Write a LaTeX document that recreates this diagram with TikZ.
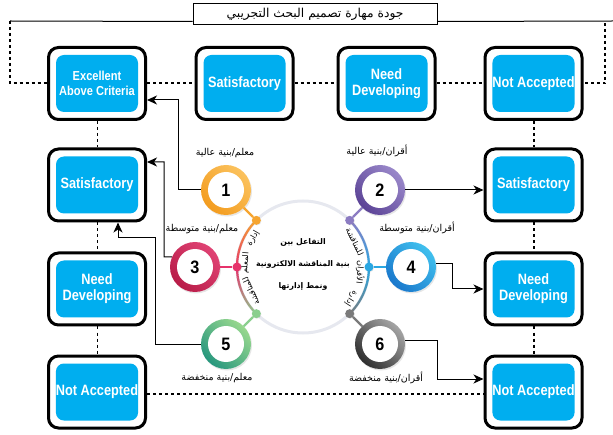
\documentclass[tikz,border=0pt]{standalone}
\usepackage{fontspec}
\usetikzlibrary{calc,arrows.meta,shadows}
\TeXXeTstate=1
\newfontfamily\arabicfont[Script=Arabic]{DejaVu Sans}
\newfontfamily\boxfont[FakeStretch=0.85]{Liberation Sans}
\newfontfamily\numfont[FakeStretch=0.9]{Liberation Sans}
\definecolor{boxblue}{HTML}{00AEEF}
\definecolor{ringgray}{HTML}{E6E8EF}
\definecolor{oA}{HTML}{F39C1F}\definecolor{oB}{HTML}{FBC25E}
\definecolor{pA}{HTML}{5B4396}\definecolor{pB}{HTML}{9A88CA}
\definecolor{rA}{HTML}{B81C48}\definecolor{rB}{HTML}{E04374}
\definecolor{bA}{HTML}{1A78CC}\definecolor{bB}{HTML}{40C0EE}
\definecolor{gA}{HTML}{27977E}\definecolor{gB}{HTML}{98D88E}
\definecolor{kA}{HTML}{2E2E2E}\definecolor{kB}{HTML}{A5A5A5}
\definecolor{arcO}{HTML}{F6A530}
\definecolor{arcP}{HTML}{E6336B}
\definecolor{arcG}{HTML}{8ACF8E}
\definecolor{arcU}{HTML}{8C7CC2}
\definecolor{arcB}{HTML}{2AA7E2}
\definecolor{arcK}{HTML}{7A7A7A}
\newcommand\arcw[4]{\node[arct, rotate=#1-90] (#4) at ($(C)+(#1:#2)$) {\beginR #3\endR};}
\tikzset{
  obox/.style={draw=black, line width=3pt, rounded corners=10pt, fill=white,
    minimum width=97pt, minimum height=72pt, inner sep=0pt,
    drop shadow={opacity=0.25, shadow xshift=1.2pt, shadow yshift=-1.2pt}},
  ibox/.style={fill=boxblue, rounded corners=8pt, minimum width=82pt, minimum height=57pt,
    inner sep=0pt, text=white, align=center, font=\boxfont\bfseries\fontsize{15}{16}\selectfont},
  dotline/.style={line width=2pt, dash pattern=on 3pt off 3pt},
  dashline/.style={line width=1pt, dash pattern=on 3pt off 3pt},
  arr/.style={line width=1pt, -{Stealth[length=10pt, width=9pt, inset=3pt]}},
  numc/.style 2 args={circle, minimum size=50pt, inner sep=0pt, fill=white,
    font=\numfont\bfseries\fontsize{18}{18}\selectfont,
    drop shadow={opacity=0.2, shadow xshift=1pt, shadow yshift=-1.5pt},
    path picture={\shade[left color=#1, right color=#2, shading angle=135]
      (path picture bounding box.center) circle (25pt);
      \fill[white] (path picture bounding box.center) circle (18pt);}},
  dotc/.style={circle, minimum size=9pt, inner sep=0pt, fill=#1,
    drop shadow={opacity=0.2, shadow xshift=0.6pt, shadow yshift=-0.6pt}},
  lab/.style={font=\arabicfont\fontsize{9.5}{10}\selectfont, inner sep=0pt},
  arct/.style={font=\arabicfont\fontsize{8}{8}\selectfont, inner sep=0pt},
  ctext/.style={font=\arabicfont\bfseries\fontsize{7.8}{22}\selectfont, align=center, inner sep=0pt},
}
\begin{document}
\begin{tikzpicture}[x=1pt, y=1pt]
\useasboundingbox (0,0) rectangle (613,434);

% title
\node[draw, line width=1pt, fill=white, minimum width=244pt, minimum height=21pt, inner sep=0pt,
  font=\arabicfont\fontsize{12.3}{14}\selectfont] (title) at (315,419.5)
  {\beginR جودة مهارة تصميم البحث التجريبي\endR};

% boxes: top row
\node[obox] (e1) at (97,350.5) {};
\node[ibox, font=\boxfont\bfseries\fontsize{13}{15}\selectfont] (e1t) at (e1) {Excellent\\Above Criteria};
\node[obox] (a2) at (244.5,350.5) {};
\node[ibox] (a2t) at (a2) {Satisfactory};
\node[obox] (a3) at (386.5,350.5) {};
\node[ibox] (a3t) at (a3) {Need\\Developing};
\node[obox] (a4) at (533.5,350.5) {};
\node[ibox] (a4t) at (a4) {Not Accepted};
% left column
\node[obox] (s1) at (97,249) {};
\node[ibox] (s1t) at (s1) {Satisfactory};
\node[obox] (d1) at (97,145) {};
\node[ibox] (d1t) at (d1) {Need\\Developing};
\node[obox] (na1) at (97,42) {};
\node[ibox] (na1t) at (na1) {Not Accepted};
% right column
\node[obox] (r1) at (533.5,249) {};
\node[ibox] (r1t) at (r1) {Satisfactory};
\node[obox] (r2) at (533.5,145) {};
\node[ibox] (r2t) at (r2) {Need\\Developing};
\node[obox] (r3) at (533.5,42) {};
\node[ibox] (r3t) at (r3) {Not Accepted};

% frame lines
\coordinate (tl) at (10,413);
\coordinate (tr) at (613,413);
\coordinate (trd) at (605,411);
\draw[line width=1pt] ($(title.south west)+(0,4)$) -- (tl);
\draw[line width=1pt] ($(title.south east)+(0,4)$) -- (tr);
\draw[dotline] (tl) |- (e1.west);
\draw[dotline] (trd) |- (a4.east);
\draw[dotline] (e1.east) -- (a2.west);
\draw[dotline] (a2.east) -- (a3.west);
\draw[dotline] (a3.east) -- (a4.west);
\draw[dashline] (e1.south) -- (s1.north);
\draw[dashline] (s1.south) -- (d1.north);
\draw[dashline] (d1.south) -- (na1.north);
\draw[dotline] (a4.south) -- (r1.north);
\draw[dotline] (r1.south) -- (r2.north);
\draw[dotline] (r2.south) -- (r3.north);
\draw[dotline] ($(na1.east)+(0,-2)$) -- ($(r3.west)+(0,-2)$);

% central circle
\coordinate (C) at (303,167);
\draw[ringgray, line width=3pt] (C) circle (66);
\foreach \k in {0,...,19}{
  \pgfmathsetmacro\myA{135+2.25*\k}
  \pgfmathsetmacro\myB{\myA+2.5}
  \pgfmathtruncatemacro\myP{100-5*\k}
  \colorlet{segc}{arcO!\myP!arcP}
  \draw[segc, line width=2.2pt] ($(C)+(\myA:66)$) arc[start angle=\myA, end angle=\myB, radius=66];
  \pgfmathsetmacro\myA{180+2.25*\k}
  \pgfmathsetmacro\myB{\myA+2.5}
  \colorlet{segc}{arcP!\myP!arcG}
  \draw[segc, line width=2.2pt] ($(C)+(\myA:66)$) arc[start angle=\myA, end angle=\myB, radius=66];
  \pgfmathsetmacro\myA{45-2.25*\k}
  \pgfmathsetmacro\myB{\myA-2.5}
  \colorlet{segc}{arcU!\myP!arcB}
  \draw[segc, line width=2.2pt] ($(C)+(\myA:66)$) arc[start angle=\myA, end angle=\myB, radius=66];
  \pgfmathsetmacro\myA{-2.25*\k}
  \pgfmathsetmacro\myB{\myA-2.5}
  \colorlet{segc}{arcB!\myP!arcK}
  \draw[segc, line width=2.2pt] ($(C)+(\myA:66)$) arc[start angle=\myA, end angle=\myB, radius=66];
}

% number circles
\node[numc={oA}{oB}] (n1) at (226,244) {1};
\node[numc={pA}{pB}] (n2) at (380,244) {2};
\node[numc={rA}{rB}] (n3) at (195,167) {3};
\node[numc={bA}{bB}] (n4) at (411,167) {4};
\node[numc={gA}{gB}] (n5) at (226,90) {5};
\node[numc={kA}{kB}] (n6) at (380,90) {6};

% dots on the circle
\node[dotc=arcO] (p1) at ($(C)+(135:66)$) {};
\node[dotc=arcP] (p3) at ($(C)+(180:66)$) {};
\node[dotc=arcG] (p5) at ($(C)+(225:66)$) {};
\node[dotc=arcU] (p2) at ($(C)+(45:66)$) {};
\node[dotc=arcB] (p4) at ($(C)+(0:66)$) {};
\node[dotc=arcK] (p6) at ($(C)+(-45:66)$) {};
\draw[arcO, line width=2.2pt] (n1) -- (p1);
\draw[arcP, line width=2.2pt] (n3) -- (p3);
\draw[arcG, line width=2.2pt] (n5) -- (p5);
\draw[arcU, line width=2.2pt] (n2) -- (p2);
\draw[arcB, line width=2.2pt] (n4) -- (p4);
\draw[arcK, line width=2.2pt] (n6) -- (p6);

% text along the arcs
\arcw{150}{57.5}{إدارة}{w1}
\arcw{176}{57.5}{المعلم}{w2}
\arcw{205}{57.5}{للمناقشة}{w3}
\arcw{-33}{57.5}{إدارة}{w4}
\arcw{-5}{57.5}{الأقران}{w5}
\arcw{26}{57.5}{للمناقشة}{w6}

% centre text
\node[ctext] (ct) at (303,170) {\beginR التفاعل بين\endR\\\beginR بنية المناقشة الالكترونية\endR\\\beginR ونمط إدارتها\endR};

% labels
\node[lab] (l1) at (225,281) {\beginR معلم/بنية عالية\endR};
\node[lab] (l2) at (377,283) {\beginR أقران/بنية عالية\endR};
\node[lab] (l3) at (202,205) {\beginR معلم/بنية متوسطة\endR};
\node[lab] (l4) at (417,206) {\beginR أقران/بنية متوسطة\endR};
\node[lab] (l5) at (217,56) {\beginR معلم/بنية منخفضة\endR};
\node[lab] (l6) at (386,56) {\beginR أقران/بنية منخفضة\endR};

% arrows
\draw[arr] (n1.west) -- (178,244) |- ($(e1.east)+(0,-16.5)$);
\draw[arr] (n3.156) -- (164,177.2) |- ($(s1.east)+(0,23)$);
\draw[arr] (n5.west) -| (155,196) -| ($(s1.south)+(21,0)$);
\draw[arr] (n2.east) -- (n2.east -| r1.west);
\draw[arr] (n4.9) -| (452,145) -- (r2.west);
\draw[arr] (n6.7) -| (437,55) -- ($(r3.west)+(0,13)$);
\end{tikzpicture}
\end{document}
